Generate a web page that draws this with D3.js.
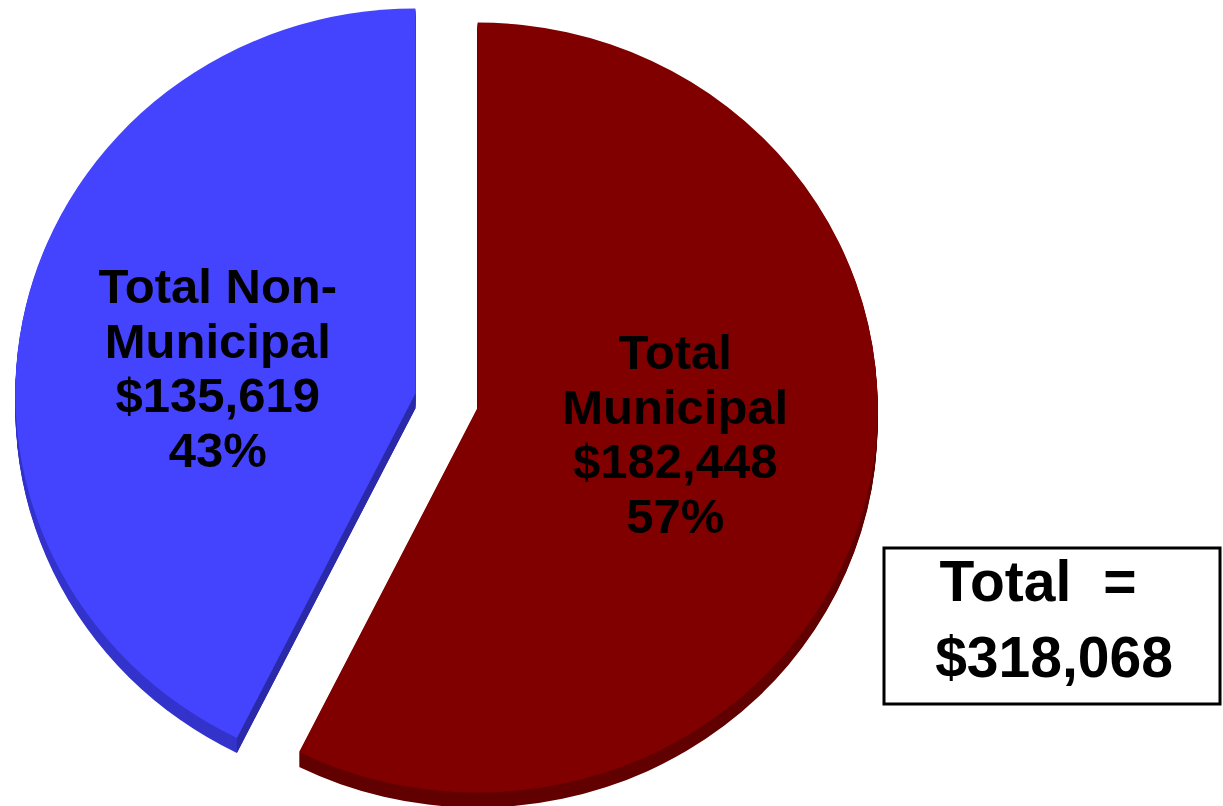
<!DOCTYPE html>
<html>
<head>
<meta charset="utf-8">
<script src="https://cdn.jsdelivr.net/npm/d3@7"></script>
<style>
  html, body { margin: 0; padding: 0; background: #fff; }
  text { font-family: "Liberation Sans", Arial, sans-serif; font-weight: bold; }
</style>
</head>
<body>
<div id="chart"></div>
<script>
// data
var categories = ['Total Municipal', 'Total Non-Municipal'];
var labelLines = [['Total', 'Municipal'], ['Total Non-', 'Municipal']];
var values = [182448, 135619];
var percents = ['57%', '43%'];
var totalLines = ['Total =', '$318,068'];

var topColors = ['#800000', '#4444ff'];
var wallColors = ['#620000', '#3434cc'];
var edgeColors = ['#4a0000', '#2a2aa8'];

var width = 1223,
    height = 806,
    cx = 446.5,
    cy = 400.5,
    rx = 400,
    k = 0.9625,        // vertical squash of the tilted pie
    depth = 15,        // thickness of the side wall
    explode = 32,
    fontSize = 49,
    lineH = 54.5;

var svg = d3.select('#chart').append('svg')
    .attr('width', width)
    .attr('height', height);

var pie = d3.pie().sort(null).value(function(d) { return d; });
var arcs = pie(values);

var arc = d3.arc().innerRadius(0).outerRadius(rx);

// centre of each exploded slice
arcs.forEach(function(a, i) {
    var mid = (a.startAngle + a.endAngle) / 2;
    a.ox = cx + Math.sin(mid) * explode;
    a.oy = cy - Math.cos(mid) * explode * k;
    a.mid = mid;
    a.i = i;
});

var slice = svg.selectAll('g.slice')
    .data(arcs)
    .enter().append('g')
    .attr('class', 'slice');

// side wall: stacked copies of the slice shifted down
slice.each(function(a) {
    var g = d3.select(this);
    g.selectAll('path.wall')
        .data(d3.range(depth, 0, -1))
        .enter().append('path')
        .attr('class', 'wall')
        .attr('fill', wallColors[a.i])
        .attr('transform', function(dy) {
            return 'translate(' + a.ox + ',' + (a.oy + dy) + ') scale(1,' + k + ')';
        })
        .attr('d', arc(a));

    // radial edges facing the viewer get a darker face
    [[a.startAngle, 1], [a.endAngle, -1]].forEach(function(e) {
        var ang = e[0];
        var ex = Math.sin(ang) * rx, ey = -Math.cos(ang) * rx * k;
        // outward normal of the edge
        var nx = e[1] * ey, ny = -e[1] * ex;
        if (ny > 1) {
            g.append('path')
                .attr('fill', edgeColors[a.i])
                .attr('d', 'M' + a.ox + ',' + a.oy +
                    'L' + (a.ox + ex) + ',' + (a.oy + ey) +
                    'L' + (a.ox + ex) + ',' + (a.oy + ey + depth) +
                    'L' + a.ox + ',' + (a.oy + depth) + 'Z');
        }
    });
});

// top face
slice.append('path')
    .attr('class', 'top')
    .attr('fill', function(a) { return topColors[a.i]; })
    .attr('transform', function(a) {
        return 'translate(' + a.ox + ',' + a.oy + ') scale(1,' + k + ')';
    })
    .attr('d', arc);

// labels
var fmt = d3.format('$,');
var labelArc = d3.arc().innerRadius(400).outerRadius(420);

slice.append('text')
    .attr('text-anchor', 'middle')
    .attr('font-size', fontSize)
    .attr('fill', '#000')
    .each(function(a) {
        var c = labelArc.centroid(a);
        var lx = a.ox + c[0] / 2.02,
            ly = a.oy + c[1] * k / 3.5;
        var lines = labelLines[a.i].concat([fmt(values[a.i]), percents[a.i]]);
        d3.select(this).selectAll('tspan')
            .data(lines)
            .enter().append('tspan')
            .attr('x', lx)
            .attr('y', function(d, j) { return ly + (j - 1.5) * lineH + 17.5; })
            .text(function(d) { return d; });
    });

// total box
var box = svg.append('g').attr('class', 'total-box');
box.append('rect')
    .attr('x', 884)
    .attr('y', 548)
    .attr('width', 336)
    .attr('height', 156)
    .attr('fill', '#fff')
    .attr('stroke', '#000')
    .attr('stroke-width', 3);

box.append('text')
    .attr('x', 1038)
    .attr('y', 601)
    .attr('text-anchor', 'middle')
    .attr('font-size', 57)
    .style('word-spacing', '16px')
    .text(totalLines[0]);

box.append('text')
    .attr('x', 1054)
    .attr('y', 677)
    .attr('text-anchor', 'middle')
    .attr('font-size', 57)
    .text(totalLines[1]);
</script>
</body>
</html>
